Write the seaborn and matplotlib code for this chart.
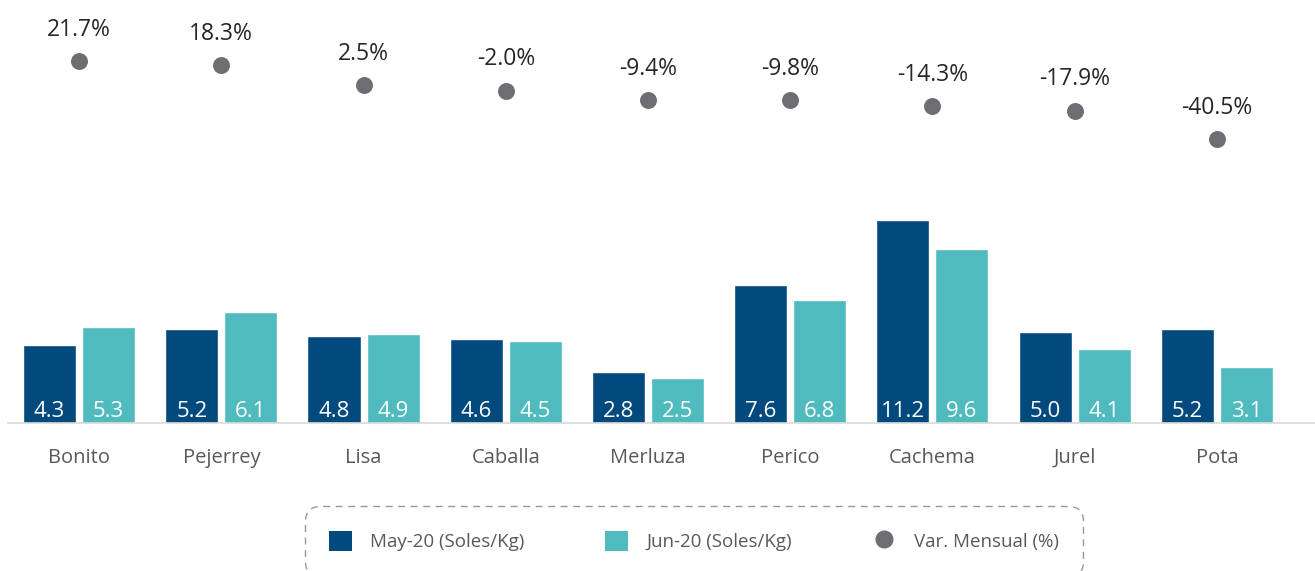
import pandas as pd
import numpy as np
import matplotlib.pyplot as plt
import seaborn as sns
from matplotlib.patches import Patch
from matplotlib.lines import Line2D

categories = ['Bonito', 'Pejerrey', 'Lisa', 'Caballa', 'Merluza', 'Perico', 'Cachema', 'Jurel', 'Pota']
may_20 = [4.3, 5.2, 4.8, 4.6, 2.8, 7.6, 11.2, 5.0, 5.2]
jun_20 = [5.3, 6.1, 4.9, 4.5, 2.5, 6.8, 9.6, 4.1, 3.1]
var_mensual = [21.7, 18.3, 2.5, -2.0, -9.4, -9.8, -14.3, -17.9, -40.5]
series_names = ['May-20 (Soles/Kg)', 'Jun-20 (Soles/Kg)', 'Var. Mensual (%)']

DARK = '#02497d'
TEAL = '#4fbbbe'
DOT = '#6d6e71'
GREY_TXT = '#595959'

sns.set_style('white')
plt.rcParams['font.family'] = ['Open Sans', 'DejaVu Sans']

df = pd.DataFrame({
    'especie': categories * 2,
    'precio': may_20 + jun_20,
    'serie': [series_names[0]] * len(categories) + [series_names[1]] * len(categories),
})

fig = plt.figure(figsize=(13.15, 5.71), dpi=100)
ax = fig.add_axes([8 / 1315, 148 / 571, 1307 / 1315, 423 / 571])

sns.barplot(data=df, x='especie', y='precio', hue='serie', palette=[DARK, TEAL],
            width=0.83, gap=0.1, legend=False, ax=ax, saturation=1, errorbar=None)

# value labels inside the bars, at the bottom
for cont in ax.containers:
    for patch, val in zip(cont.patches, cont.datavalues):
        ax.annotate(f'{val:.1f}', xy=(patch.get_x() + patch.get_width() / 2, 0),
                    xytext=(0, 1), textcoords='offset points', ha='center', va='bottom',
                    color='white', fontsize=16)

ax.set_xlim(-0.5, 8.69)
ax.set_ylim(0, 23.3)
ax.set_xlabel('')
ax.set_ylabel('')
ax.set_yticks([])
for s in ['top', 'left', 'right']:
    ax.spines[s].set_visible(False)
ax.spines['bottom'].set_color('#d9d9d9')
ax.spines['bottom'].set_linewidth(1.2)
ax.tick_params(axis='x', length=0, pad=18, labelsize=14.5, labelcolor=GREY_TXT)

# secondary axis for the monthly variation
ax2 = ax.twinx()
xs = np.arange(len(categories))
ax2.scatter(xs, var_mensual, s=125, color=DOT, zorder=3)
for x, v in zip(xs, var_mensual):
    ax2.annotate(f'{v:.1f}%', xy=(x, v), xytext=(0, 14), textcoords='offset points',
                 ha='center', va='bottom', fontsize=16.5, color='#262626')
ax2.set_ylim(-267, 70.3)
ax2.set_yticks([])
for s in ['top', 'left', 'right', 'bottom']:
    ax2.spines[s].set_visible(False)

handles = [Patch(facecolor=DARK, edgecolor='none'),
           Patch(facecolor=TEAL, edgecolor='none'),
           Line2D([], [], marker='o', linestyle='none', color=DOT, markersize=12)]
leg = fig.legend(handles, series_names, loc='center', bbox_to_anchor=(694 / 1315, 1 - 541 / 571),
                 ncol=3, frameon=True, fontsize=13.5, handlelength=1.2, handleheight=1.3,
                 handletextpad=1.0, columnspacing=4.3, borderpad=1.1, labelcolor=GREY_TXT)
frame = leg.get_frame()
frame.set_boxstyle('round,pad=0.2,rounding_size=0.8')
frame.set_linestyle((0, (5, 4)))
frame.set_edgecolor('#7f7f7f')
frame.set_linewidth(1)

fig.savefig('out.png', dpi=100)
